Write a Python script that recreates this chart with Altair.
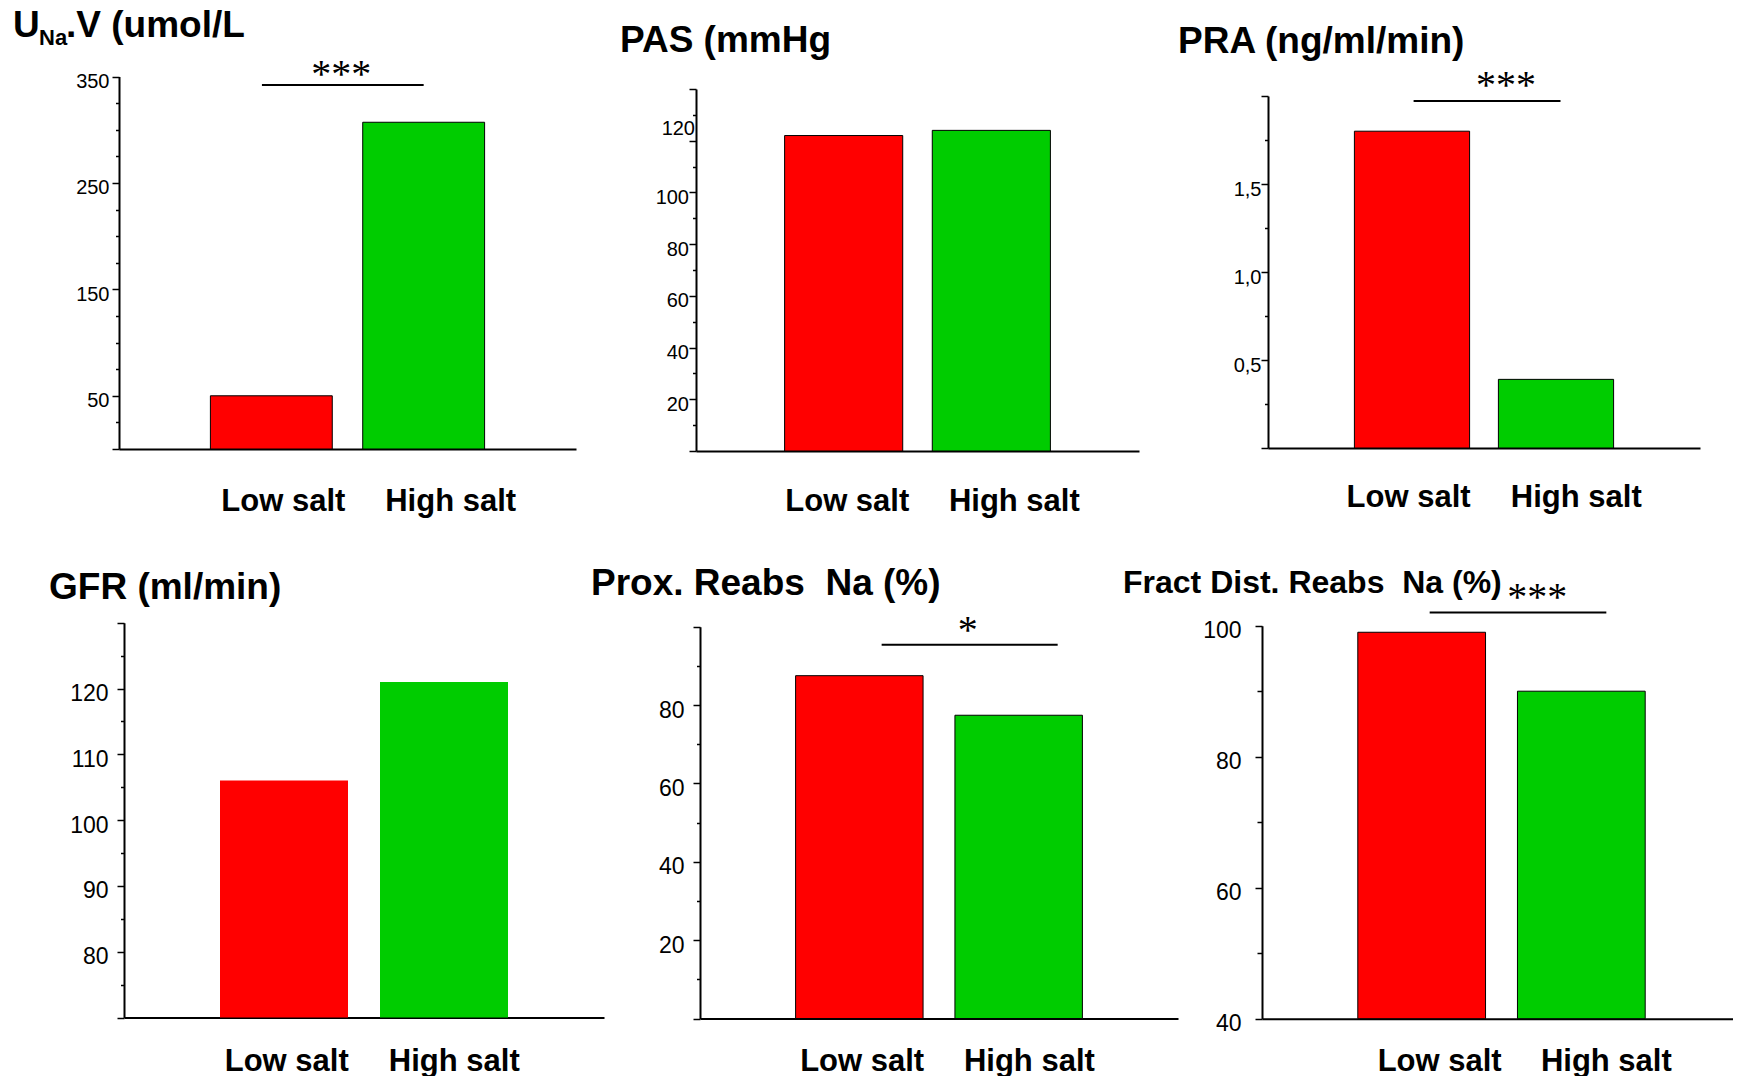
import altair as alt
import pandas as pd

# ---------------- data ----------------
groups = ["Low salt", "High salt"]
bar_colors = ["#FF0000", "#00CC00"]

una_values = [50, 307]          # UNa.V (umol/L)
pas_values = [122, 124]         # PAS (mmHg)
pra_values = [1.80, 0.39]       # PRA (ng/ml/min)
gfr_values = [106, 121]         # GFR (ml/min)
prox_values = [87.5, 77.4]      # Prox. Reabs Na (%)
fract_values = [99.0, 90.0]     # Fract Dist. Reabs Na (%)

una_ticks = list(range(0, 351, 25))
una_labelled = [50, 150, 250, 350]
pas_ticks = list(range(0, 141, 10))
pas_labelled = [20, 40, 60, 80, 100, 120]
pra_ticks = [0, 0.25, 0.5, 0.75, 1.0, 1.25, 1.5, 1.75, 2.0]
pra_labelled = [0.5, 1.0, 1.5]
gfr_ticks = list(range(70, 131, 5))
gfr_labelled = [80, 90, 100, 110, 120]
prox_ticks = list(range(0, 101, 10))
prox_labelled = [20, 40, 60, 80]
fract_ticks = list(range(40, 101, 10))
fract_labelled = [40, 60, 80, 100]

sig_una = ["***", 342]
sig_pra = ["***", 1.972]
sig_prox = ["*", 95.4]
sig_fract = ["***", 102.0]

titles = ["U", "Na", ".V (umol/L", "PAS (mmHg", "PRA (ng/ml/min)",
          "GFR (ml/min)", "Prox. Reabs \u00a0Na (%)", "Fract Dist. Reabs \u00a0Na (%)"]

# ---------------- layout ----------------
W, H = 1725, 1068
M = 8  # page margin
FONT = "Liberation Sans"


def jsarr(vals):
    return "[" + ",".join(str(v) for v in vals) + "]"


def panel(values, domain, ticks, major, labelled, geo, xlab, ylab,
          sig=None, stroke=True, minor_len=3.5, label_expr=None, extra_label=None):
    axis_x, x_end, ybase, ytop = [g - M for g in geo]
    df = pd.DataFrame({"group": groups, "value": values})
    major_test = "indexof(%s, datum.value) < 0" % jsarr(major)
    lab_test = "indexof(%s, datum.value) >= 0" % jsarr(labelled)
    if label_expr is None:
        label_expr = "%s ? datum.label : ''" % lab_test
    else:
        label_expr = "%s ? %s : ''" % (lab_test, label_expr)

    ysize, ypad, yoff = ylab
    label_offset = yoff
    label_padding = ypad
    if extra_label is not None:
        val, off, pad = extra_label
        label_offset = {"condition": {"test": "datum.value == %s" % val, "value": off}, "value": yoff}
        label_padding = {"condition": {"test": "datum.value == %s" % val, "value": pad}, "value": ypad}

    yaxis = alt.Axis(
        orient="left", offset=-axis_x, values=ticks, labelExpr=label_expr,
        tickSize={"condition": {"test": major_test, "value": minor_len}, "value": 7},
        tickColor="black", tickWidth=1.5, domainColor="black", domainWidth=2,
        labelFont=FONT, labelFontSize=ysize, labelColor="black",
        labelPadding=label_padding, labelOffset=label_offset,
        labelOverlap=False, labelBound=False, labelFlush=False, grid=False,
    )
    low_off, high_off, xpad = xlab
    xaxis = alt.Axis(
        orient="bottom", offset=-(H - ybase), ticks=False, tickSize=0,
        domainColor="black", domainWidth=2, labelAngle=0,
        labelFont=FONT, labelFontSize=31, labelFontWeight="bold", labelColor="black",
        labelPadding=xpad, labelBaseline="middle",
        labelOffset={"condition": {"test": "datum.value == 'Low salt'", "value": low_off}, "value": high_off},
        grid=False,
    )
    xscale = alt.Scale(domain=groups, range=[axis_x, x_end], paddingInner=0.2, paddingOuter=0.6)
    yscale = alt.Scale(domain=domain, range=[ybase, ytop], nice=False, zero=False)

    bar_kw = dict(stroke="black", strokeWidth=1) if stroke else {}
    bars = alt.Chart(df).mark_bar(**bar_kw).encode(
        x=alt.X("group:N", scale=xscale, axis=xaxis, title=None, sort=groups),
        y=alt.Y("value:Q", scale=yscale, axis=yaxis, title=None),
        y2=alt.datum(domain[0]),
        color=alt.Color("group:N", scale=alt.Scale(domain=groups, range=bar_colors), legend=None),
    )
    layers = [bars]
    if sig is not None:
        (txt, level), (xo1, xo2, sdx, sdy) = sig
        sdf = pd.DataFrame({"a": [groups[0]], "b": [groups[1]], "y": [level], "t": [txt]})
        rule = alt.Chart(sdf).mark_rule(color="black", strokeWidth=2, xOffset=xo1, x2Offset=xo2).encode(
            x=alt.X("a:N"), x2=alt.X2("b"), y=alt.Y("y:Q"))
        stars = alt.Chart(sdf).mark_text(font="Liberation Serif", fontSize=40, color="black",
                                         align="center", baseline="alphabetic", dx=sdx, dy=sdy).encode(
            x=alt.X("a:N"), y=alt.Y("y:Q"), text="t:N")
        layers += [rule, stars]
    return alt.layer(*layers)


p1 = panel(una_values, [0, 350], una_ticks, [0, 50, 150, 250, 350], una_labelled,
           (119, 576, 449, 76.5), (12, 27, 52), (20, 3, 5),
           sig=(sig_una, (-9.4, 0, 69.8, 2)))
p2 = panel(pas_values, [0, 140], pas_ticks, list(range(0, 141, 20)), pas_labelled,
           (696, 1139, 451, 89), (3.6, 23, 50), (20, 0.5, 5),
           extra_label=(120, -12, -5.5))
p3 = panel(pra_values, [0, 2], pra_ticks, [0, 0.5, 1.0, 1.5, 2.0], pra_labelled,
           (1268, 1700, 448, 96), (-3.4, 20.3, 49.5), (20, 0, 5),
           sig=(sig_pra, (1.6, 4.5, 94, -2.5)),
           label_expr="replace(format(datum.value, '.1f'), '.', ',')")
p4 = panel(gfr_values, [70, 130], gfr_ticks, list(range(70, 131, 10)), gfr_labelled,
           (124, 604, 1017.5, 622.7), (2.7, 10.3, 44), (23, 9, 5), stroke=False)
p5 = panel(prox_values, [0, 100], prox_ticks, list(range(0, 101, 20)), prox_labelled,
           (700, 1178, 1018.5, 626.7), (2.8, 10.7, 42.5), (23, 9, 5),
           sig=(sig_prox, (22.3, 39, 108.4, -1.8)))
p6 = panel(fract_values, [40, 100], fract_ticks, [40, 60, 80, 100], fract_labelled,
           (1262, 1741, 1018.7, 625.7), (18, 25, 43), (23, 14, 5),
           sig=(sig_fract, (8, 25, 115.5, -3)), minor_len=5)

# titles: (x, baseline y, size) in page pixels
title_pos = [(13, 37, 37), (39, 45, 22), (66, 37, 37), (620, 52, 37), (1178, 53, 37),
             (49, 599, 37), (591, 595, 37), (1123, 593, 32)]
title_layers = []
for t, (tx, ty, ts) in zip(titles, title_pos):
    title_layers.append(
        alt.Chart(pd.DataFrame({"t": [t]})).mark_text(
            font=FONT, fontSize=ts, fontWeight="bold", color="black",
            align="left", baseline="alphabetic").encode(
            x=alt.value(tx - M), y=alt.value(ty - M), text="t:N")
    )

chart = alt.layer(p1, p2, p3, p4, p5, p6, *title_layers).resolve_scale(
    x="independent", y="independent", color="independent"
).resolve_axis(x="independent", y="independent").properties(
    width=W, height=H, padding=0, autosize="none", background="white"
).configure_view(stroke=None)

chart.save("out.html", embed_options={"renderer": "svg", "actions": False})
